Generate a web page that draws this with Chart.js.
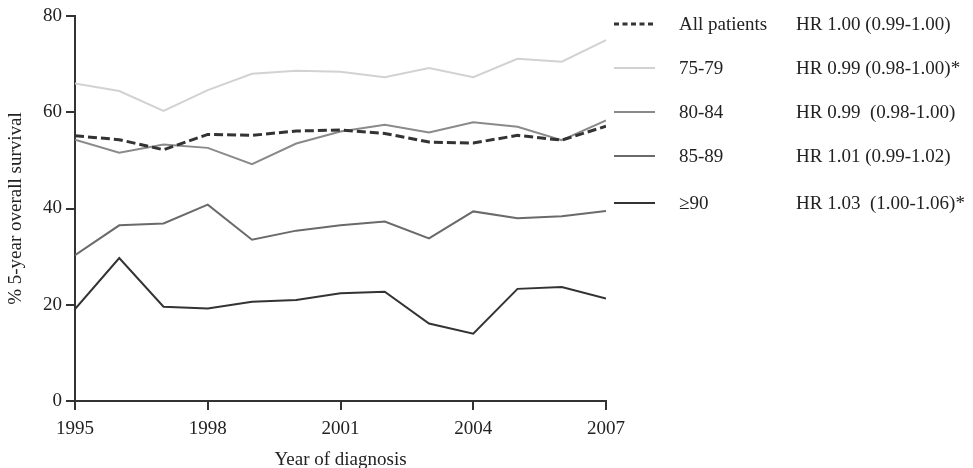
<!DOCTYPE html>
<html>
<head>
<meta charset="utf-8">
<script src="https://cdn.jsdelivr.net/npm/chart.js@4"></script>
<style>
  html, body { margin: 0; padding: 0; background: #fff; }
  #wrap { width: 973px; height: 468px; }
</style>
</head>
<body>
<div id="wrap"><canvas id="survivalChart" width="973" height="468"></canvas></div>
<script>
// данные с графика
const years = [1995, 1996, 1997, 1998, 1999, 2000, 2001, 2002, 2003, 2004, 2005, 2006, 2007];
const allPatients = [55.1, 54.3, 52.2, 55.4, 55.2, 56.1, 56.3, 55.6, 53.8, 53.6, 55.2, 54.2, 57.1];
const age75to79 = [66.0, 64.4, 60.3, 64.6, 68.0, 68.6, 68.4, 67.3, 69.2, 67.3, 71.1, 70.5, 75.0];
const age80to84 = [54.3, 51.6, 53.3, 52.6, 49.2, 53.5, 56.0, 57.4, 55.8, 57.9, 57.0, 54.2, 58.3];
const age85to89 = [30.3, 36.5, 36.9, 40.8, 33.5, 35.4, 36.5, 37.3, 33.8, 39.4, 38.0, 38.4, 39.5];
const age90plus = [19.1, 29.7, 19.6, 19.2, 20.6, 21.0, 22.4, 22.7, 16.1, 14.0, 23.3, 23.7, 21.3];

const seriesNames = ['All patients', '75-79', '80-84', '85-89', '\u226590'];
const hazardRatios = [
    'HR 1.00 (0.99-1.00)',
    'HR 0.99 (0.98-1.00)*',
    'HR 0.99  (0.98-1.00)',
    'HR 1.01 (0.99-1.02)',
    'HR 1.03  (1.00-1.06)*'
];
const yTicks = [0, 20, 40, 60, 80];
const xTicks = [1995, 1998, 2001, 2004, 2007];

const fontFamily = '"Liberation Serif", "Times New Roman", serif';
const fontSize = 19;
const textColor = '#222';
const axisColor = '#333';

function toPoints(values) {
    return values.map((v, i) => ({ x: years[i], y: v }));
}

const datasets = [
    { label: seriesNames[0], data: toPoints(allPatients), borderColor: '#333', borderWidth: 3, borderDash: [9, 4] },
    { label: seriesNames[1], data: toPoints(age75to79), borderColor: '#d2d2d2', borderWidth: 2 },
    { label: seriesNames[2], data: toPoints(age80to84), borderColor: '#8a8a8a', borderWidth: 2 },
    { label: seriesNames[3], data: toPoints(age85to89), borderColor: '#6a6a6a', borderWidth: 2 },
    { label: seriesNames[4], data: toPoints(age90plus), borderColor: '#333', borderWidth: 2 }
];
datasets.forEach(ds => {
    ds.pointRadius = 0;
    ds.tension = 0;
    ds.fill = false;
});

// Легенда справа: линия, название, HR
const sideLegend = {
    id: 'sideLegend',
    afterDraw(chart) {
        const ctx = chart.ctx;
        const rowY = [24, 68, 112, 156, 203];
        ctx.save();
        ctx.font = fontSize + 'px ' + fontFamily;
        ctx.fillStyle = textColor;
        ctx.textBaseline = 'middle';
        chart.data.datasets.forEach((ds, i) => {
            const y = rowY[i];
            ctx.beginPath();
            ctx.strokeStyle = ds.borderColor;
            ctx.lineWidth = ds.borderWidth;
            ctx.setLineDash(ds.borderDash ? [5, 3.5] : []);
            ctx.moveTo(614, y);
            ctx.lineTo(655, y);
            ctx.stroke();
            ctx.setLineDash([]);
            ctx.fillText(ds.label, 679, y + 1);
            ctx.fillText(hazardRatios[i], 796, y + 1);
        });
        ctx.restore();
    }
};

const ctx = document.getElementById('survivalChart').getContext('2d');
new Chart(ctx, {
    type: 'line',
    data: { datasets: datasets },
    options: {
        responsive: false,
        animation: false,
        events: [],
        layout: { padding: { top: 16, right: 367, left: 0, bottom: 0 } },
        plugins: {
            legend: { display: false },
            tooltip: { enabled: false }
        },
        scales: {
            x: {
                type: 'linear',
                min: 1995,
                max: 2007,
                afterBuildTicks: scale => { scale.ticks = xTicks.map(v => ({ value: v })); },
                afterFit: scale => { scale.height = 67; },
                ticks: {
                    font: { family: fontFamily, size: fontSize },
                    color: textColor,
                    padding: 8,
                    maxRotation: 0,
                    callback: v => String(v)
                },
                grid: { display: true, drawOnChartArea: false, drawTicks: true, tickLength: 9, color: axisColor, lineWidth: 2 },
                border: { display: true, color: axisColor, width: 2 },
                title: {
                    display: true,
                    text: 'Year of diagnosis',
                    font: { family: fontFamily, size: fontSize },
                    color: textColor,
                    padding: { top: 0, bottom: -3 }
                }
            },
            y: {
                min: 0,
                max: 80,
                afterBuildTicks: scale => { scale.ticks = yTicks.map(v => ({ value: v })); },
                afterFit: scale => { scale.width = 75; },
                ticks: {
                    font: { family: fontFamily, size: fontSize },
                    color: textColor,
                    padding: 4
                },
                grid: { display: true, drawOnChartArea: false, drawTicks: true, tickLength: 9, color: axisColor, lineWidth: 2 },
                border: { display: true, color: axisColor, width: 2 },
                title: {
                    display: true,
                    text: '% 5-year overall survival',
                    font: { family: fontFamily, size: fontSize },
                    color: textColor,
                    padding: { top: 5, bottom: 0 }
                }
            }
        }
    },
    plugins: [sideLegend]
});
</script>
</body>
</html>
